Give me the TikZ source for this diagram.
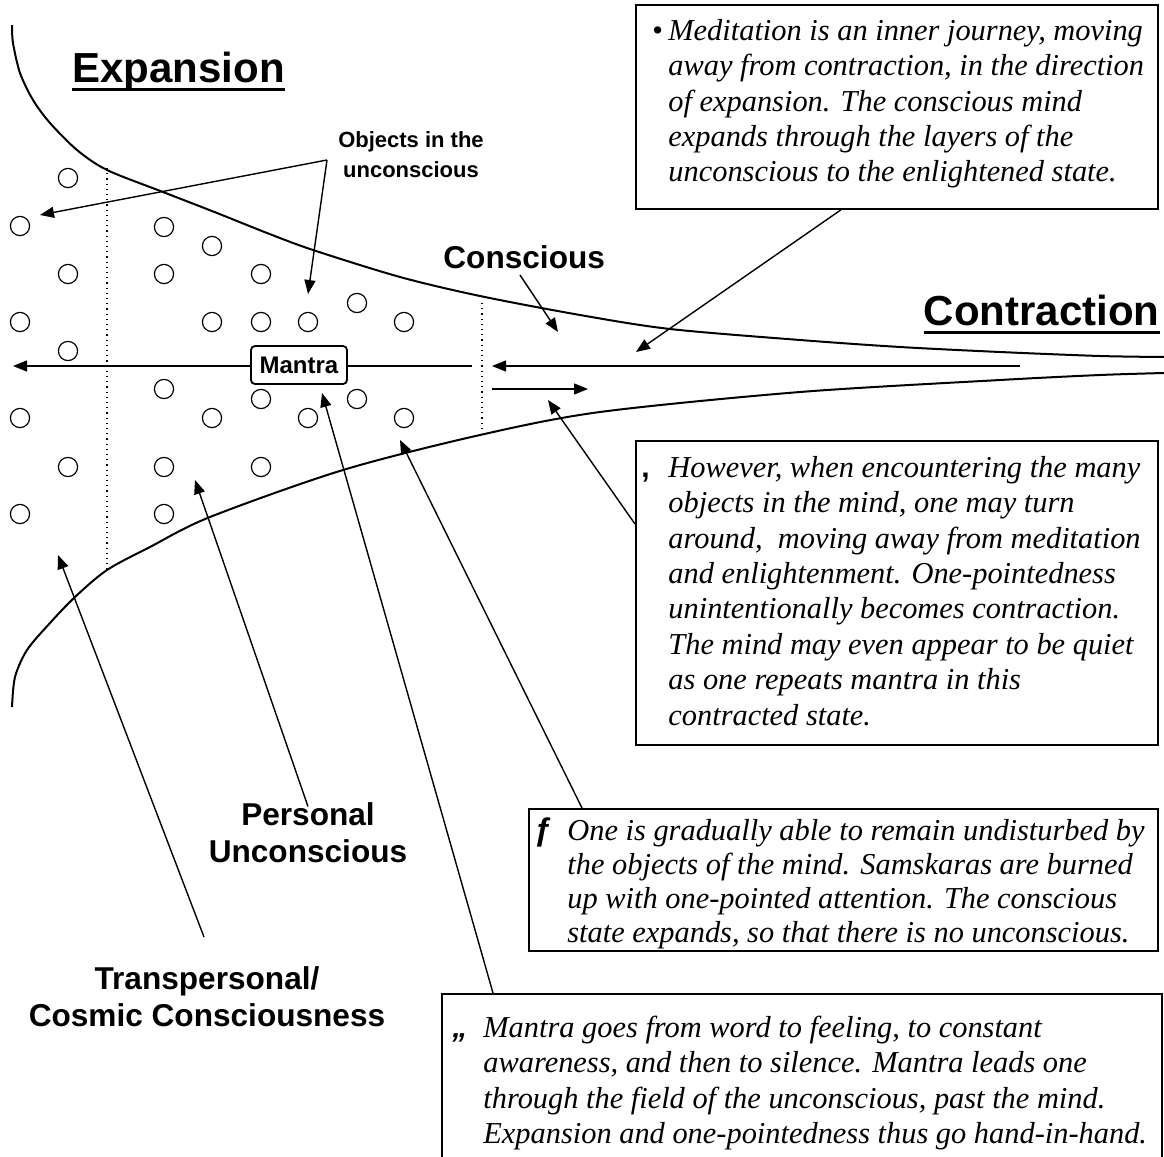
\documentclass[tikz,border=0pt]{standalone}
\usepackage{fontspec}
\setmainfont{Liberation Serif}
\setsansfont{Liberation Sans}
\usetikzlibrary{arrows.meta,calc}
\tikzset{
  circ/.style={circle,draw,line width=0.6pt,minimum size=9.6pt,inner sep=0pt},
  arr/.style={line width=0.7pt,-{Triangle[length=7pt,width=5.5pt]}},
  tbox/.style={draw,line width=0.9pt,inner sep=0pt,anchor=north west},
  btxt/.style={inner sep=0pt,anchor=north west,align=left,font=\fontsize{15.2}{17.7}\selectfont\itshape},
  glyph/.style={inner sep=0pt,anchor=base west},
  big/.style={font=\fontsize{21}{24}\selectfont\sffamily\bfseries,inner sep=0pt},
  uline/.style={line width=1.5pt},
  mid/.style={font=\fontsize{15.8}{18.5}\selectfont\sffamily\bfseries,inner sep=0pt,align=center},
  small/.style={font=\fontsize{11}{15}\selectfont\sffamily\bfseries,inner sep=0pt,align=center},
  curve/.style={line width=1pt},
  dots/.style={line width=0.6pt,dotted}
}
\begin{document}
\begin{tikzpicture}[x=0.5pt,y=-0.5pt]
\useasboundingbox (0,0) rectangle (1164,1157);
% boundary curves
\draw[curve] plot[smooth] coordinates {(12,25) (13,43) (20,73) (33,100) (50,123) (77,150) (107,170) (163,192) (217,213) (267,233) (313,250) (400,277) (480,296) (580,315) (670,329) (800,340) (900,347) (1000,352) (1100,356) (1164,357)};
\draw[curve] plot[smooth] coordinates {(12,707) (15,677) (27,650) (50,623) (75,597) (107,570) (150,547) (210,517) (343,470) (480,435) (600,412) (800,392) (1000,380) (1100,375) (1164,373)};
% dotted separators
\coordinate (d1t) at (107,168); \coordinate (d1b) at (107,570);
\coordinate (d2t) at (482,303); \coordinate (d2b) at (482,433);
\draw[dots] (d1t) -- (d1b);
\draw[dots] (d2t) -- (d2b);
% objects
\foreach \x/\y [count=\i] in {68/178,20/226,164/227,212/246,68/274,164/274,261/274,20/322,212/322,261/322,308/322,357/303,404/322,68/351,164/389,261/399,357/399,20/418,212/418,308/418,404/418,68/467,164/467,261/467,20/514,164/514}
  \node[circ] (o\i) at (\x,\y) {};
% headings
\node[big,anchor=base west] (exp) at (72,82) {Expansion};
\draw[uline] ([yshift=-3.6pt]exp.base west) -- ([yshift=-3.6pt]exp.base east);
\node[big,anchor=base east] (con) at (1160,325) {Contraction};
\draw[uline] ([yshift=-3.6pt]con.base west) -- ([yshift=-3.6pt]con.base east);
\node[mid,anchor=base west] (consc) at (443,268) {Conscious};
\node[small,anchor=base] (objl) at (411,177) {Objects in the\\unconscious};
\node[mid] (pers) at (308,833) {Personal\\Unconscious};
\node[mid] (trans) at (207,997) {Transpersonal/\\Cosmic Consciousness};
% mantra line
\coordinate (mr) at (472,366);
\coordinate (ml) at (13,366);
\draw[arr] (mr) -- (ml);
\node[draw,line width=0.9pt,rounded corners=2pt,fill=white,minimum width=48pt,minimum height=19pt,inner sep=0pt,font=\fontsize{12}{14}\selectfont\sffamily\bfseries] (mantra) at (299,365) {Mantra};
% contraction arrows
\coordinate (ca) at (1020,366); \coordinate (cb) at (492,366);
\draw[arr] (ca) -- (cb);
\coordinate (ra) at (492,389); \coordinate (rb) at (588,389);
\draw[arr] (ra) -- (rb);
% objects label arrows
\coordinate (apex) at (327,160);
\coordinate (t1) at (40,215);
\coordinate (t2) at (308,294);
\draw[arr] (apex) -- (t1);
\draw[arr] (apex) -- (t2);
% conscious arrow
\coordinate (ct) at (558,332);
\draw[arr] (520,275) coordinate (cs) -- (ct);
% text boxes
\node[tbox,minimum width=261pt,minimum height=102pt] (b1) at (635,4) {};
\node[glyph,font=\fontsize{15.2}{17.7}\selectfont] (g1) at (652,40) {•};
\node[btxt] (t1x) at (668,15.2) {\strut Meditation is an inner journey, moving\\away from contraction, in the direction\\of expansion. The conscious mind\\expands through the layers of the\\unconscious to the enlightened state.};
\node[tbox,minimum width=261pt,minimum height=152pt] (b2) at (635,440) {};
\node[glyph,font=\fontsize{15}{17}\selectfont\sffamily\bfseries] (g2) at (641,477) {,};
\node[btxt] (t2x) at (668,452.2) {\strut However, when encountering the many\\objects in the mind, one may turn\\around,\ \ moving away from meditation\\and enlightenment. One-pointedness\\unintentionally becomes contraction.\\The mind may even appear to be quiet\\as one repeats mantra in this\\contracted state.};
\node[tbox,minimum width=314.5pt,minimum height=71pt] (b3) at (528,808) {};
\node[glyph,font=\fontsize{16}{17}\selectfont\sffamily\bfseries] (g3) at (534,840) {ƒ};
\node[btxt,font=\fontsize{15.2}{17}\selectfont\itshape] (t3x) at (567,816.2) {\strut One is gradually able to remain undisturbed by\\the objects of the mind. Samskaras are burned\\up with one-pointed attention. The conscious\\state expands, so that there is no unconscious.};
\node[tbox,minimum width=360pt,minimum height=90pt] (b4) at (441,993) {};
\node[glyph,font=\fontsize{15}{17}\selectfont\sffamily\bfseries\itshape] (g4) at (452,1037) {„};
\node[btxt] (t4x) at (483,1012.2) {\strut Mantra goes from word to feeling, to constant\\awareness, and then to silence. Mantra leads one\\through the field of the unconscious, past the mind.\\Expansion and one-pointedness thus go hand-in-hand.};
% box arrows
\draw[arr] ([xshift=103pt]b1.south west) -- (636,352);
\draw[arr] ([yshift=-42pt]b2.north west) -- (548,400);
\draw[arr] ([xshift=27pt]b3.north west) -- (400,440);
\draw[arr] ([xshift=26pt]b4.north west) -- (322,393);
\draw[arr] ($(pers.north)+(0,-2pt)$) -- (195,480);
\draw[arr] (204,937) -- (58,555);
\end{tikzpicture}
\end{document}
